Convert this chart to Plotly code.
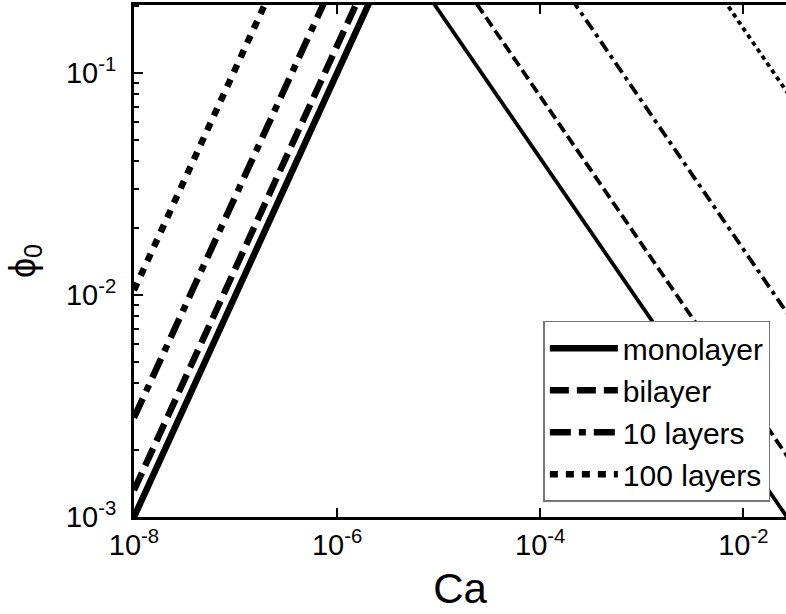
import plotly.graph_objects as go

# Data: each series rises (thick), peaks above the plot, then falls (thin)
ca_mono = [1.0e-8, 3.7e-6, 3.2e-2]
phi_mono = [1.0e-3, 0.37, 8.9e-4]

ca_bi = [1.0e-8, 4.6e-6, 3.2e-2]
phi_bi = [1.32e-3, 0.61, 1.68e-3]

ca_10 = [1.0e-8, 7.2e-6, 3.2e-2]
phi_10 = [2.8e-3, 2.0, 7.4e-3]

ca_100 = [1.0e-8, 1.29e-5, 3.2e-2]
phi_100 = [1.05e-2, 13.5, 7.3e-2]

names = ["monolayer", "bilayer", "10 layers", "100 layers"]
xtick_vals = [1e-8, 1e-6, 1e-4, 1e-2]
xtick_text = ["10<sup>-8</sup>", "10<sup>-6</sup>", "10<sup>-4</sup>", "10<sup>-2</sup>"]
ytick_vals = [1e-3, 1e-2, 1e-1]
ytick_text = ["10<sup>-3</sup>", "10<sup>-2</sup>", "10<sup>-1</sup>"]

series = [
    (ca_mono, phi_mono, "solid", "solid"),
    (ca_bi, phi_bi, "19px,8px", "11px,5px"),
    (ca_10, phi_10, "21px,8px,7px,8px", "12px,5px,4px,5px"),
    (ca_100, phi_100, "8px,8px", "4.5px,4px"),
]

fig = go.Figure()
for name, (xs, ys, dash_up, dash_down) in zip(names, series):
    fig.add_trace(go.Scatter(x=xs[:2], y=ys[:2], mode="lines", name=name,
                             line=dict(color="black", width=6.5, dash=dash_up)))
for name, (xs, ys, dash_up, dash_down) in zip(names, series):
    fig.add_trace(go.Scatter(x=xs[1:], y=ys[1:], mode="lines", name=name, showlegend=False,
                             line=dict(color="black", width=3.8, dash=dash_down)))

font = "Liberation Sans, Arial, sans-serif"
fig.update_layout(
    width=786, height=614,
    margin=dict(l=134, r=0, t=5, b=97),
    paper_bgcolor="white", plot_bgcolor="white",
    font=dict(family=font, color="black", size=29),
    showlegend=True,
    legend=dict(x=0.976, xanchor="right", y=0.03, yanchor="bottom",
                bgcolor="white", bordercolor="#777", borderwidth=1.5,
                font=dict(size=30, family=font), itemwidth=68,
                tracegroupgap=0, traceorder="normal"),
)
fig.update_xaxes(
    type="log", range=[-8, -1.58],
    tickvals=xtick_vals, ticktext=xtick_text,
    ticks="inside", ticklen=9, tickwidth=2, tickcolor="black",
    showline=True, linewidth=3, linecolor="black", mirror="ticks",
    showgrid=False, zeroline=False,
    tickfont=dict(size=29),
    title=dict(text="Ca", font=dict(size=42), standoff=14),
)
fig.update_yaxes(
    type="log", range=[-3, -0.694],
    tickvals=ytick_vals, ticktext=ytick_text,
    ticks="inside", ticklen=9, tickwidth=2, tickcolor="black",
    minor=dict(ticks="inside", ticklen=5, tickwidth=2, tickcolor="black", dtick="D1", showgrid=False),
    showline=True, linewidth=3, linecolor="black", mirror=False,
    showgrid=False, zeroline=False,
    tickfont=dict(size=29), ticklabelstandoff=9,
    title=dict(text="ϕ<sub>0</sub>", font=dict(size=36), standoff=20),
)
fig.write_html("out.html")
